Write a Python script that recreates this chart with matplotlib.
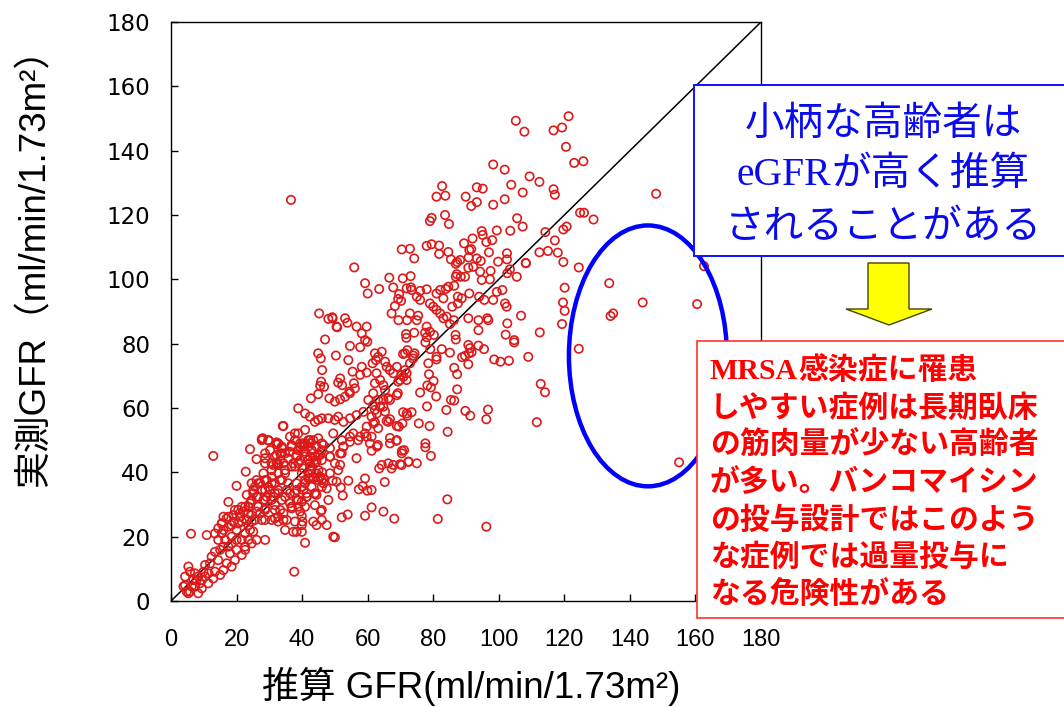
import matplotlib
matplotlib.use('Agg')
import matplotlib.pyplot as plt
from matplotlib.patches import Ellipse, Rectangle, Polygon

# ---------------- data ----------------
x_ticks = [0, 20, 40, 60, 80, 100, 120, 140, 160, 180]
y_ticks = [0, 20, 40, 60, 80, 100, 120, 140, 160, 180]

est_gfr = [
    105.2,107.8,121.3,119.3,116.7,120.5,125.8,123.0,98.3,101.8,
    109.4,112.4,103.8,93.3,95.1,107.3,116.7,117.1,89.9,93.3,
    91.6,98.3,101.8,124.8,126.0,128.9,105.6,107.3,103.5,99.4,
    94.8,95.1,92.0,98.0,96.2,89.4,114.2,119.7,120.7,117.1,
    112.4,115.0,118.0,119.7,124.4,108.2,102.5,97.0,102.5,99.8,
    103.4,102.6,105.5,97.5,94.5,92.2,91.0,
    108.3,133.7,120.1,106.8,119.6,120.1,119.3,134.9,134.1,143.9,
    160.5,162.6,112.5,124.4,109.0,112.8,114.1,111.6,155.0,148.0,
    36.6,
    96.2,81.4,84.3,68.1,64.8,61.2,65.2,63.5,67.3,69.9,
    72.5,75.0,79.3,77.6,77.6,70.5,71.1,66.8,68.7,63.1,
    84.4,78.9,75.6,69.5,70.6,66.8,65.8,62.2,70.8,72.1,
    73.4,78.1,84.0,89.8,91.3,96.2,96.7,85.4,86.4,80.9,
    76.0,87.3,69.2,78.2,79.3,80.1,78.7,87.3,86.4,90.7,
    78.5,81.0,81.0,85.1,88.8,89.7,90.9,91.7,93.8,95.5,
    98.6,100.5,103.1,102.1,104.7,104.7,102.6,93.8,86.8,86.9,
    90.7,91.2,82.6,77.6,79.1,78.0,79.0,80.2,77.5,71.7,
    71.8,74.2,70.8,72.1,73.9,74.3,75.0,72.0,69.4,85.1,
    86.3,93.8,96.8,
    70.9,71.9,70.4,71.9,69.9,71.4,72.9,68.9,66.8,65.8,
    67.8,63.8,62.7,62.2,64.8,65.3,61.7,63.2,63.8,62.2,
    65.3,61.2,64.8,66.3,69.3,65.3,62.2,63.2,64.3,61.5,
    61.2,
    82.7,81.0,83.7,83.6,84.8,79.0,79.5,55.9,70.4,72.9,
    74.2,78.0,79.5,81.8,81.8,84.6,91.6,90.8,87.3,86.9,
    88.2,85.4,93.3,90.7,94.3,94.8,97.3,89.7,88.4,86.9,
    87.2,84.6,86.4,87.5,88.7,91.0,94.0,95.6,98.3,99.4,
    101.1,101.9,102.4,96.5,90.7,87.5,85.8,83.8,82.1,78.0,
    76.0,73.4,73.2,71.9,73.1,70.7,66.6,67.8,69.6,59.2,
    60.0,63.5,68.3,70.2,69.3,67.3,72.9,75.4,75.0,76.0,
    79.0,80.0,81.0,83.1,81.0,82.1,83.1,84.1,49.3,53.1,
    53.8,50.5,59.7,56.6,78.0,
    45.2,48.0,49.2,50.7,47.0,58.2,59.2,59.9,57.7,54.6,
    44.9,45.7,50.3,54.1,62.5,71.4,73.9,46.1,45.8,46.7,
    51.6,51.0,52.2,55.4,58.2,59.7,57.7,55.8,56.1,54.6,
    54.4,42.7,44.9,45.5,48.3,50.0,51.6,53.1,38.8,40.9,
    42.4,43.9,44.9,46.0,48.0,50.0,51.0,52.6,54.6,56.6,
    58.7,60.2,61.7,62.8,64.8,66.8,68.9,59.7,61.7,63.2,
    66.3,68.9,71.9,68.9,70.4,72.4,66.8,66.3,34.3,28.0,
    29.7,32.2,33.8,36.3,37.8,39.4,40.4,38.8,40.9,42.4,
    44.4,46.0,43.9,46.0,33.3,32.2,34.3,37.3,39.4,42.4,
    48.5,51.6,52.6,54.6,55.6,57.7,59.2,60.7,62.8,56.6,
    61.2,64.3,67.8,70.4,
    12.9,24.1,26.1,22.8,20.0,17.5,6.1,10.9,13.4,37.6,
    40.9,44.4,47.5,45.7,39.9,40.1,38.3,39.9,37.3,48.0,
    43.9,46.0,47.5,48.5,46.5,44.9,43.4,41.9,40.9,49.5,
    34.8,34.3,32.7,31.7,33.3,31.7,30.7,28.7,28.2,29.2,
    26.6,25.1,23.1,28.7,26.1,24.6,22.6,20.0,21.6,19.5,
    18.5,17.0,14.4,13.4,11.4,9.9,9.4,7.8,7.3,5.8,
    5.3,4.3,3.8,5.8,7.3,9.4,8.3,11.4,12.9,15.0,
    16.0,18.0,22.6,25.1,20.0,18.5,17.5,20.5,23.1,25.6,
    28.7,27.2,23.6,20.5,19.0,17.0,15.5,14.4,16.0,24.6,
    26.6,29.7,31.7,33.8,34.8,36.8,38.8,32.7,34.8,36.3,
    38.3,39.9,41.4,38.3,36.8,38.8,32.7,30.7,28.7,27.2,
    25.6,28.7,31.7,33.3,34.8,36.3,38.3,39.4,40.9,42.9,
    44.9,41.9,43.9,40.4,42.9,44.4,41.9,32.2,32.7,30.7,
    33.8,36.8,42.4,46.0,48.5,
    4.3,4.8,5.3,6.3,6.8,8.3,10.4,8.8,10.4,11.9,
    12.4,13.4,15.0,16.0,16.5,14.4,15.5,16.0,17.5,18.5,
    21.6,22.6,23.6,24.1,23.6,20.0,19.0,21.1,22.1,22.6,
    24.6,27.7,26.1,28.2,30.7,24.6,28.7,28.7,31.7,30.2,
    28.7,27.7,29.7,32.7,
    52.1,53.9,59.2,52.4,57.3,58.5,59.9,59.2,54.1,51.8,
    50.5,49.3,46.5,46.1,40.4,41.9,43.4,44.9,42.4,44.4,
    46.5,48.5,50.0,51.0,42.4,41.4,39.9,45.5,51.6,52.6,
    52.1,49.5,52.1,54.6,57.1,59.7,61.2,50.0,
    27.7,29.9,32.2,34.1,38.8,40.9,37.8,36.8,39.9,41.9,
    42.9,40.9,38.3,35.8,33.8,32.7,31.2,34.8,37.8,39.9,
    42.4,43.9,45.5,45.0,43.4,40.9,38.3,35.8,33.3,30.7,
    29.2,26.6,25.1,27.7,30.2,32.7,35.3,37.8,40.4,42.9,
    46.0,43.9,41.4,38.8,36.3,33.8,31.2,28.7,26.1,24.1,
    21.6,19.5,21.0,23.6,26.1,28.7,31.7,34.3,36.8,39.4,
    40.9,43.9,46.0,17.5,15.5,18.5,21.6,24.6,27.7,30.7,
    32.7,35.3,37.8,39.9,43.4,46.0,44.4,
]
meas_gfr = [
    149.3,145.9,150.7,147.2,146.3,141.2,136.7,136.2,135.7,134.1,
    132.0,130.3,129.4,128.6,128.2,127.0,128.0,126.3,125.7,124.0,
    122.8,123.2,124.9,120.7,120.7,118.6,119.0,116.4,115.1,115.2,
    115.0,113.8,112.7,112.2,111.6,111.2,114.7,115.5,116.4,112.1,
    108.4,108.8,108.3,105.4,103.7,105.1,108.1,108.4,106.2,105.5,
    103.1,101.9,100.8,102.6,105.7,103.9,109.1,
    105.0,98.8,97.4,88.7,92.8,90.2,86.1,89.4,88.6,92.8,
    92.3,104.1,83.5,78.4,75.9,67.5,64.9,55.6,43.1,126.6,
    124.7,
    23.1,25.5,31.6,25.6,27.8,29.1,37.0,41.2,41.2,42.5,
    43.3,42.8,45.1,49.0,47.8,46.7,46.9,50.7,49.8,48.5,
    52.6,54.4,55.2,54.2,55.2,56.5,56.0,55.6,58.7,57.6,
    58.7,60.5,59.4,59.1,57.6,56.5,59.5,62.5,62.3,63.6,
    64.8,65.8,64.6,67.0,66.4,68.4,70.5,70.5,72.5,73.6,
    73.9,75.1,75.9,77.2,75.8,76.2,77.0,77.3,79.4,78.3,
    75.1,74.4,74.7,82.8,81.1,80.4,86.3,84.2,82.7,81.3,
    79.6,78.6,78.3,80.4,78.3,82.0,83.7,82.7,83.4,83.0,
    81.8,83.4,76.8,78.0,76.3,77.0,87.3,87.3,87.3,86.1,
    87.3,87.3,87.3,
    69.7,68.7,70.3,70.8,68.7,71.8,73.9,72.8,71.8,72.8,
    70.8,68.7,70.8,67.7,67.1,65.6,64.6,62.5,60.4,59.4,
    58.9,57.3,62.5,63.0,68.2,74.4,77.0,75.9,77.5,73.9,
    34.5,
    129.0,125.7,126.0,120.0,117.2,118.1,119.1,103.7,109.3,109.5,
    106.5,110.4,110.9,110.5,107.9,108.5,109.4,106.8,105.4,104.8,
    106.0,106.2,106.5,103.6,102.4,99.8,100.0,100.8,100.8,100.8,
    101.6,97.7,98.0,94.6,94.1,95.6,94.6,93.6,93.6,96.1,
    96.7,92.5,91.5,87.9,87.9,92.5,91.5,97.0,96.7,96.9,
    96.4,96.7,97.5,97.2,101.0,100.3,100.5,97.5,95.4,98.8,
    95.6,97.0,91.7,93.3,93.9,89.4,89.4,88.7,94.6,93.6,
    92.5,91.5,95.6,94.1,90.5,89.4,87.9,88.4,87.9,87.9,
    86.5,85.3,85.3,85.3,85.3,
    89.4,87.7,88.2,85.1,81.3,83.2,81.1,80.6,78.9,79.3,
    77.0,75.4,76.3,74.9,74.9,77.0,75.4,71.8,68.2,66.6,
    69.2,67.9,67.1,71.3,72.8,71.0,70.3,67.7,66.1,64.6,
    65.1,63.0,64.3,66.9,63.0,62.0,62.7,63.5,59.9,58.3,
    57.3,55.7,56.3,56.8,56.8,56.3,57.3,55.7,56.8,57.8,
    58.8,62.5,60.9,58.3,60.4,62.5,64.0,54.2,55.2,53.7,
    55.7,54.4,58.3,50.0,45.9,43.3,49.0,42.8,54.4,50.6,
    50.0,48.7,48.0,51.1,52.1,49.0,48.0,46.9,46.4,49.0,
    48.0,46.9,44.9,43.8,45.9,42.8,42.8,42.8,43.8,42.8,
    44.9,45.9,48.0,51.1,52.1,51.1,52.1,49.0,48.0,44.4,
    46.7,42.3,42.3,42.3,
    45.1,47.2,44.1,40.2,35.8,30.8,20.9,20.5,21.0,9.1,
    18.1,23.6,23.6,27.9,26.4,24.7,21.5,21.5,21.5,31.4,
    33.3,35.5,35.0,39.7,38.1,37.6,38.1,38.1,36.6,20.0,
    22.1,25.2,26.2,25.7,28.3,29.8,31.4,28.8,31.4,32.4,
    32.4,33.5,33.0,19.0,19.0,17.9,16.9,15.9,14.3,12.7,
    10.7,11.7,12.7,9.1,8.6,9.1,6.5,6.5,8.6,9.1,
    10.7,7.6,4.5,2.9,4.5,3.9,2.4,5.5,7.0,8.1,
    9.6,14.8,21.0,21.6,19.0,20.0,23.1,24.1,25.2,25.2,
    25.2,27.3,29.3,28.3,26.7,25.7,24.1,22.6,26.2,26.7,
    29.3,35.5,36.6,37.6,39.7,41.8,42.8,34.5,32.4,33.5,
    34.5,35.5,33.5,31.4,29.3,29.3,39.7,38.6,37.6,36.6,
    35.5,34.5,33.5,43.8,45.9,46.4,45.4,48.0,49.0,46.9,
    45.4,43.8,42.8,41.2,40.7,39.7,39.7,45.4,42.3,42.8,
    47.5,48.5,50.0,49.0,47.5,
    4.9,2.9,2.4,4.5,6.5,7.6,7.6,5.5,11.2,11.7,
    13.8,15.3,15.9,16.9,19.0,19.0,21.0,22.1,16.9,17.9,
    19.0,15.9,19.0,22.1,23.6,22.1,24.6,26.2,27.8,29.3,
    31.4,34.5,37.6,39.7,40.7,36.6,42.8,44.4,44.9,46.9,
    45.9,50.0,50.0,49.0,
    26.0,26.9,26.5,32.8,34.7,35.7,34.3,38.1,37.4,35.3,
    37.1,37.4,36.6,40.0,49.0,48.0,50.0,50.6,44.9,43.3,
    48.5,44.9,42.8,40.7,38.1,32.4,30.9,38.6,42.3,48.0,
    45.9,52.1,50.0,49.5,50.0,51.1,51.1,19.8,
    50.4,49.8,49.3,54.4,52.1,53.2,50.0,48.0,48.5,50.0,
    46.9,44.9,44.9,44.3,45.9,42.8,42.3,40.7,41.8,39.7,
    41.8,43.8,45.4,40.7,38.6,37.6,36.6,36.6,37.6,36.6,
    37.6,36.6,34.5,34.5,34.5,33.5,34.5,33.5,34.5,35.5,
    37.6,33.5,32.4,31.4,30.4,31.4,32.4,31.4,32.4,30.4,
    29.3,28.3,27.3,27.3,27.8,28.3,28.3,27.3,28.8,27.8,
    29.3,29.8,28.3,26.2,24.1,23.6,24.7,24.7,25.2,25.2,
    24.7,25.2,24.7,23.6,24.7,25.2,33.0,
]

# highlighted region (ellipse) in data units
ell_center = (145.5, 76.2)
ell_size = (48.2, 81.1)

x_label = '推算 GFR(ml/min/1.73m²)'
y_label = '実測GFR（ml/min/1.73m²）'
blue_lines = [
    [('小柄な高齢者は', 'cjk')],
    [('eGFR', 'serif'), ('が高く推算', 'cjk')],
    [('されることがある', 'cjk')],
]
red_lines = [
    [('MRSA', 'serif'), ('感染症に罹患', 'cjk')],
    [('しやすい症例は長期臥床', 'cjk')],
    [('の筋肉量が少ない高齢者', 'cjk')],
    [('が多い。バンコマイシン', 'cjk')],
    [('の投与設計ではこのよう', 'cjk')],
    [('な症例では過量投与に', 'cjk')],
    [('なる危険性がある', 'cjk')],
]

# ---------------- figure ----------------
W, H = 1064, 707
fig = plt.figure(figsize=(W / 100, H / 100), dpi=100)
fig.patch.set_facecolor('white')


def fx(px):
    return px / W


def fy(py):
    return 1 - py / H


ax = fig.add_axes([fx(171), fy(601), 590 / W, 579 / H])
ax.set_xlim(0, 180)
ax.set_ylim(0, 180)
ax.axline((0, 0), slope=1, color='black', lw=1.1, zorder=1)
ax.scatter(est_gfr, meas_gfr, s=36, facecolors='none', edgecolors='#DD1A1A',
           linewidths=1.2, zorder=2)
ax.add_patch(Ellipse(ell_center, ell_size[0], ell_size[1], fill=False,
                     ec='#0000FF', lw=3.2, zorder=3, clip_on=False))

ax.set_xticks(x_ticks)
ax.set_yticks(y_ticks)
ax.set_xticklabels([str(v) for v in x_ticks], fontsize=17, family='Liberation Sans')
ax.set_yticklabels([str(v) for v in y_ticks], fontsize=16.5, family='DejaVu Sans')
ax.tick_params(axis='x', direction='in', length=5, width=1, pad=20, colors='black')
ax.tick_params(axis='y', direction='in', length=5, width=1, pad=15, colors='black')
for sp in ax.spines.values():
    sp.set_linewidth(1.0)
    sp.set_color('black')

fam_sans = ['Liberation Sans', 'Noto Sans CJK JP']
fig.text(fx(35), fy(258), y_label, rotation=90, ha='center', va='center',
         fontsize=26.5, family=fam_sans)
fig.text(fx(471), fy(686), x_label, ha='center', va='center',
         fontsize=26.5, family=fam_sans)

# annotation boxes
fig.add_artist(Rectangle((fx(694), fy(256)), (1080 - 694) / W, (256 - 85) / H,
                         transform=fig.transFigure, fc='white', ec='#1010FF',
                         lw=1.4, zorder=4, clip_on=False))
fig.add_artist(Rectangle((fx(697), fy(618)), (1080 - 697) / W, (618 - 341) / H,
                         transform=fig.transFigure, fc='white', ec='#FF3030',
                         lw=1.2, zorder=4, clip_on=False))
arrow_px = [(868, 263), (909, 263), (909, 309), (932, 309), (889, 325),
            (846, 309), (868, 309)]
fig.add_artist(Polygon([(fx(a), fy(b)) for a, b in arrow_px], closed=True,
                       transform=fig.transFigure, fc='#FFFF00', ec='#444400',
                       lw=1.0, zorder=4))

renderer = fig.canvas.get_renderer()
families = {'cjk': ['Noto Sans CJK JP', 'DejaVu Sans'],
            'serif': ['Liberation Serif', 'DejaVu Serif']}


def draw_line(x_px, base_px, runs, ha, size, color, weight):
    arts = []
    for txt, key in runs:
        t = fig.text(0, fy(base_px), txt, fontsize=size, family=families[key],
                     color=color, weight=weight, va='baseline', ha='left',
                     zorder=6)
        arts.append(t)
    widths = [a.get_window_extent(renderer).width for a in arts]
    total = sum(widths)
    cur = x_px - total / 2 if ha == 'center' else x_px
    for a, w in zip(arts, widths):
        a.set_x(fx(cur))
        cur += w


blue_size = 28.5
blue_centers = [120, 170, 223]
for line, c in zip(blue_lines, blue_centers):
    draw_line(883, c + 0.38 * blue_size * 100 / 72, line, 'center', blue_size,
              '#0A0AEE', 'normal')

red_size = 21.5
for i, line in enumerate(red_lines):
    c = 368 + i * 37.4
    draw_line(710, c + 0.38 * red_size * 100 / 72, line, 'left', red_size,
              '#FF0000', 'bold')

fig.savefig('out.png', dpi=100, facecolor='white')
